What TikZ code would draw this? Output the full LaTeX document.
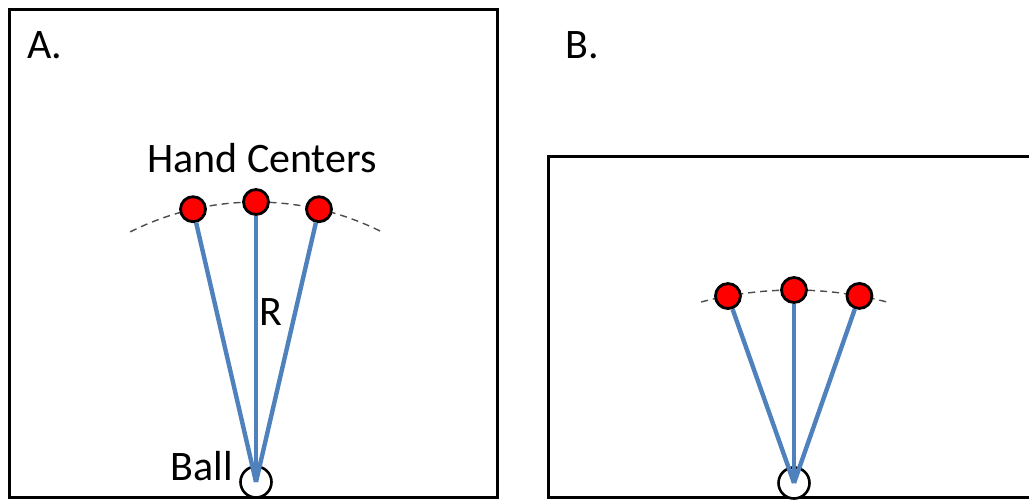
\documentclass[tikz,border=0pt]{standalone}
\usepackage{fontspec}
\setmainfont{Carlito}
\usepackage{tikz}
\usetikzlibrary{calc}
\definecolor{rodblue}{HTML}{4F81BD}
\definecolor{handred}{HTML}{FF0000}

\begin{document}
\begin{tikzpicture}[
  x=0.5pt, y=-0.5pt,
  font=\fontsize{21}{24}\selectfont,
  panel/.style={draw=black, line width=1.5pt},
  hand/.style={circle, draw=black, line width=1.4pt, fill=handred, minimum size=12.5pt, inner sep=0pt},
  ball/.style={circle, draw=black, line width=1.3pt, fill=white, minimum size=15.5pt, inner sep=0pt},
  rod/.style={draw=rodblue, line width=2.2pt},
  guide/.style={draw=black!70, line width=0.7pt, dash pattern=on 3.5pt off 2.5pt}
]
\useasboundingbox (0,0) rectangle (1029,500);
% panel A
\draw[panel] (9,9) rectangle (497,497);
\node (labA) at (45,45) {A.};
\node[ball] (ballA) at (256,482) {};
\draw[guide] ([shift={(116.7:140pt)}]ballA.center) arc[start angle=116.7, end angle=63.3, radius=140pt];
\node[hand] (handAl) at ([shift={(103:140pt)}]ballA.center) {};
\node[hand] (handAm) at ([shift={(90:140pt)}]ballA.center) {};
\node[hand] (handAr) at ([shift={(77:140pt)}]ballA.center) {};
\draw[rod] (ballA.center) -- (handAl);
\draw[rod] (ballA.center) -- (handAm);
\draw[rod] (ballA.center) -- (handAr);
\node (hands) at (262,158) {Hand Centers};
\node (radius) at (271,312) {R};
\node[anchor=east] (ballname) at (240,466) {Ball};
% panel B
\draw[panel] (1029,156) -- (548,156) -- (548,497) -- (1029,497);
\node (labB) at (582,45) {B.};
\node[ball] (ballB) at (794,483) {};
\coordinate (arcB) at (794,656);
\draw[guide] ([shift={(104.7:183pt)}]arcB) arc[start angle=104.7, end angle=75.3, radius=183pt];
\node[hand] (handBl) at ([shift={(100.4:183pt)}]arcB) {};
\node[hand] (handBm) at ([shift={(90:183pt)}]arcB) {};
\node[hand] (handBr) at ([shift={(79.7:183pt)}]arcB) {};
\draw[rod] (ballB.center) -- (handBl);
\draw[rod] (ballB.center) -- (handBm);
\draw[rod] (ballB.center) -- (handBr);
\end{tikzpicture}
\end{document}
